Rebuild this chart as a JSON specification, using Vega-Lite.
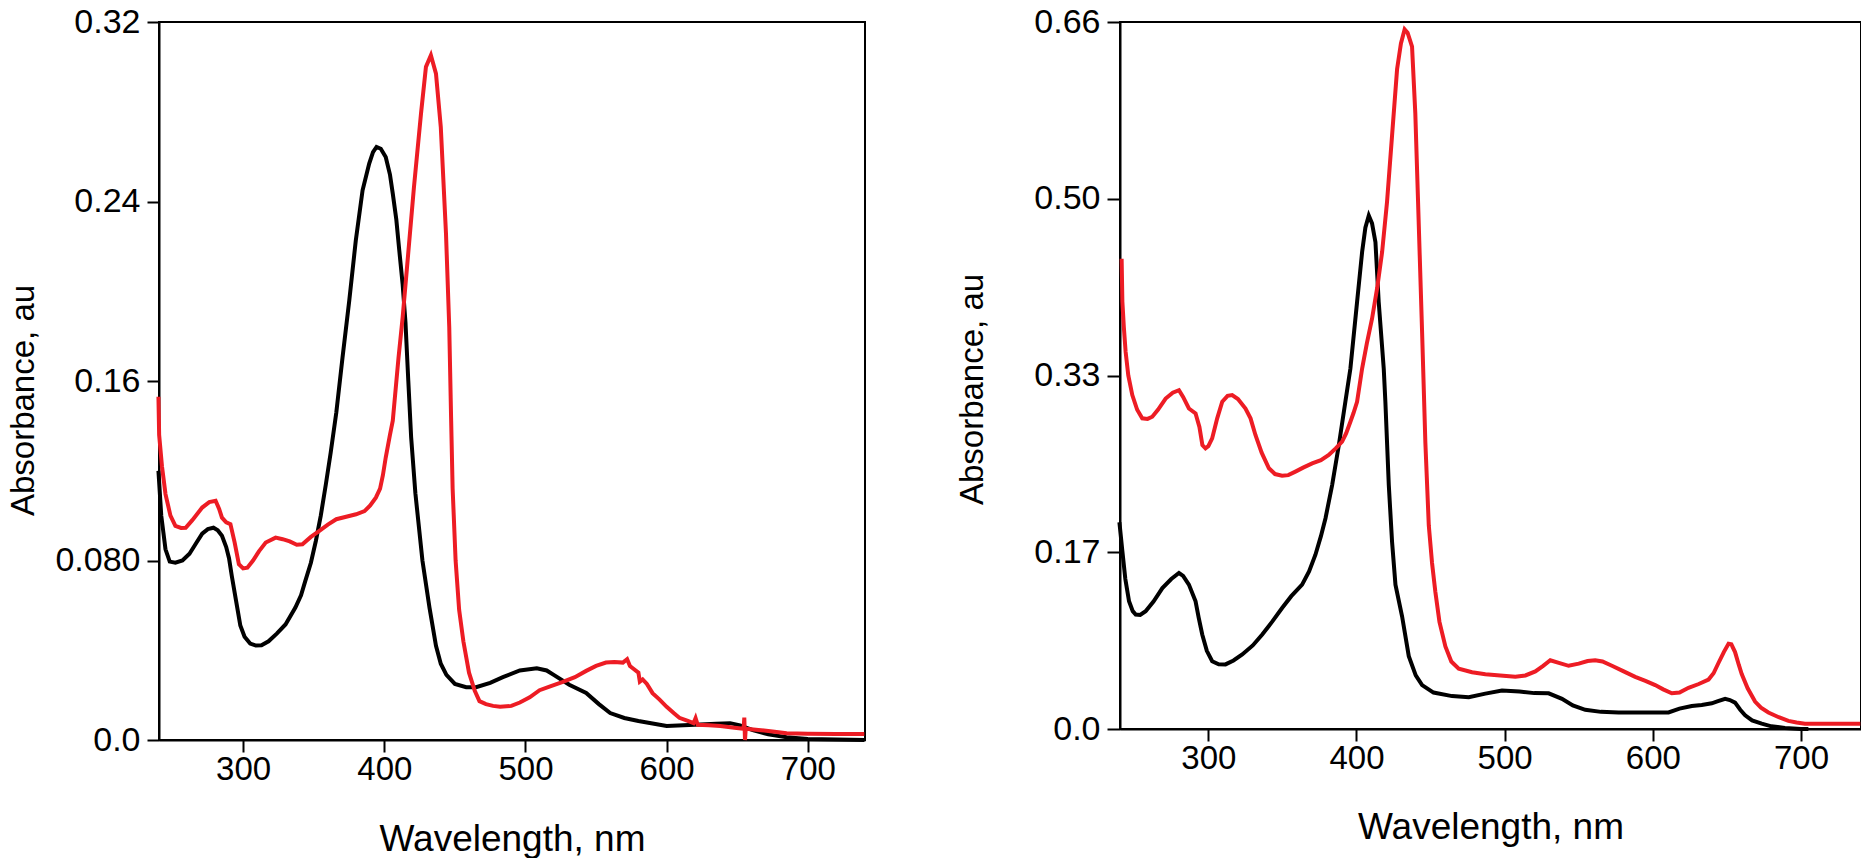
{
  "$schema": "https://vega.github.io/schema/vega-lite/v6.json",
  "background": "white",
  "padding": {"left": 6, "top": 4, "right": 2, "bottom": 0},
  "bounds": "flush",
  "spacing": 255,
  "config": {
    "font": "Liberation Sans",
    "view": {"stroke": "#000000", "strokeWidth": 2},
    "axis": {
      "grid": false,
      "domainColor": "#000000",
      "domainWidth": 2,
      "tickColor": "#000000",
      "tickWidth": 2,
      "tickSize": 12,
      "labelColor": "#000000",
      "titleColor": "#000000",
      "labelFont": "Liberation Sans",
      "titleFont": "Liberation Sans",
      "titleFontWeight": "normal",
      "labelFontSize": 34
    }
  },
  "datasets": {
    "LB": [
      {"wl": 240, "a": 0.120}, {"wl": 242, "a": 0.100}, {"wl": 245, "a": 0.085}, {"wl": 248, "a": 0.0795},
      {"wl": 252, "a": 0.079}, {"wl": 257, "a": 0.080}, {"wl": 262, "a": 0.083}, {"wl": 267, "a": 0.088},
      {"wl": 271, "a": 0.092}, {"wl": 275, "a": 0.094}, {"wl": 279, "a": 0.0946}, {"wl": 282, "a": 0.0935},
      {"wl": 285, "a": 0.091}, {"wl": 288, "a": 0.086}, {"wl": 290, "a": 0.081}, {"wl": 292, "a": 0.073},
      {"wl": 295, "a": 0.062}, {"wl": 298, "a": 0.051}, {"wl": 301, "a": 0.046}, {"wl": 305, "a": 0.043},
      {"wl": 309, "a": 0.0421}, {"wl": 313, "a": 0.0422}, {"wl": 318, "a": 0.044}, {"wl": 324, "a": 0.0475},
      {"wl": 330, "a": 0.0515}, {"wl": 337, "a": 0.059}, {"wl": 341, "a": 0.0645}, {"wl": 344, "a": 0.0708},
      {"wl": 348, "a": 0.079}, {"wl": 351.5, "a": 0.0887}, {"wl": 355, "a": 0.100}, {"wl": 358.6, "a": 0.114},
      {"wl": 362, "a": 0.128}, {"wl": 366, "a": 0.146}, {"wl": 370.4, "a": 0.1705}, {"wl": 375.2, "a": 0.196},
      {"wl": 379.8, "a": 0.2226}, {"wl": 384.6, "a": 0.245}, {"wl": 389.3, "a": 0.2569}, {"wl": 392, "a": 0.262},
      {"wl": 394.5, "a": 0.2643}, {"wl": 397.5, "a": 0.2635}, {"wl": 401, "a": 0.2598}, {"wl": 404, "a": 0.252},
      {"wl": 406, "a": 0.2435}, {"wl": 408.5, "a": 0.232}, {"wl": 410.6, "a": 0.2182}, {"wl": 413, "a": 0.203},
      {"wl": 415, "a": 0.186}, {"wl": 417, "a": 0.160}, {"wl": 419, "a": 0.135}, {"wl": 422, "a": 0.110},
      {"wl": 427, "a": 0.080}, {"wl": 432, "a": 0.059}, {"wl": 436.6, "a": 0.042}, {"wl": 440, "a": 0.034},
      {"wl": 444, "a": 0.029}, {"wl": 450, "a": 0.025}, {"wl": 458, "a": 0.0235}, {"wl": 465, "a": 0.0235},
      {"wl": 475, "a": 0.0255}, {"wl": 484, "a": 0.028}, {"wl": 496, "a": 0.031}, {"wl": 508, "a": 0.032},
      {"wl": 515, "a": 0.031}, {"wl": 520, "a": 0.029}, {"wl": 531, "a": 0.0246}, {"wl": 543, "a": 0.021},
      {"wl": 552, "a": 0.016}, {"wl": 560, "a": 0.012}, {"wl": 570, "a": 0.0098}, {"wl": 580, "a": 0.0085},
      {"wl": 600, "a": 0.0062}, {"wl": 620, "a": 0.0068}, {"wl": 635, "a": 0.0072}, {"wl": 645, "a": 0.0075},
      {"wl": 652, "a": 0.0065}, {"wl": 661, "a": 0.0044}, {"wl": 672, "a": 0.0025}, {"wl": 685, "a": 0.0012},
      {"wl": 700, "a": 0.0005}, {"wl": 740, "a": 0.0}
    ],
    "LR": [
      {"wl": 240, "a": 0.153}, {"wl": 240.5, "a": 0.136}, {"wl": 242.5, "a": 0.122}, {"wl": 245, "a": 0.1096},
      {"wl": 248.5, "a": 0.100}, {"wl": 252, "a": 0.0954}, {"wl": 256, "a": 0.0945}, {"wl": 259.3, "a": 0.0946},
      {"wl": 264, "a": 0.098}, {"wl": 271, "a": 0.1036}, {"wl": 276, "a": 0.106}, {"wl": 280.5, "a": 0.1066},
      {"wl": 283, "a": 0.103}, {"wl": 285, "a": 0.0991}, {"wl": 288, "a": 0.097}, {"wl": 291, "a": 0.0962},
      {"wl": 294, "a": 0.088}, {"wl": 297, "a": 0.0783}, {"wl": 300, "a": 0.0765}, {"wl": 303, "a": 0.0768},
      {"wl": 307, "a": 0.080}, {"wl": 311.3, "a": 0.0842}, {"wl": 316, "a": 0.088}, {"wl": 323, "a": 0.0902},
      {"wl": 328, "a": 0.0895}, {"wl": 333, "a": 0.0885}, {"wl": 338, "a": 0.087}, {"wl": 342, "a": 0.0872},
      {"wl": 348, "a": 0.0905}, {"wl": 354, "a": 0.0932}, {"wl": 360, "a": 0.096}, {"wl": 366, "a": 0.0984},
      {"wl": 373, "a": 0.0995}, {"wl": 380, "a": 0.1006}, {"wl": 386, "a": 0.102}, {"wl": 390, "a": 0.1045},
      {"wl": 394, "a": 0.108}, {"wl": 397, "a": 0.112}, {"wl": 399, "a": 0.118}, {"wl": 401, "a": 0.1259},
      {"wl": 404, "a": 0.136}, {"wl": 406, "a": 0.1423}, {"wl": 407.5, "a": 0.1527}, {"wl": 410, "a": 0.170},
      {"wl": 413, "a": 0.1884}, {"wl": 416.5, "a": 0.2137}, {"wl": 421, "a": 0.2464}, {"wl": 426, "a": 0.2792},
      {"wl": 429.5, "a": 0.300}, {"wl": 433, "a": 0.3052}, {"wl": 436.6, "a": 0.297}, {"wl": 440, "a": 0.2732},
      {"wl": 443.7, "a": 0.2256}, {"wl": 446, "a": 0.184}, {"wl": 447.3, "a": 0.1438}, {"wl": 448.4, "a": 0.112},
      {"wl": 450.5, "a": 0.080}, {"wl": 453, "a": 0.058}, {"wl": 456, "a": 0.044}, {"wl": 460, "a": 0.030},
      {"wl": 464, "a": 0.022}, {"wl": 467.4, "a": 0.0173}, {"wl": 472, "a": 0.016}, {"wl": 477, "a": 0.0152},
      {"wl": 482, "a": 0.0148}, {"wl": 490, "a": 0.0152}, {"wl": 496, "a": 0.0167}, {"wl": 503, "a": 0.019},
      {"wl": 510, "a": 0.0222}, {"wl": 518, "a": 0.024}, {"wl": 526, "a": 0.0258}, {"wl": 535, "a": 0.028},
      {"wl": 543, "a": 0.0308}, {"wl": 550, "a": 0.033}, {"wl": 557, "a": 0.0345}, {"wl": 563, "a": 0.0348},
      {"wl": 569, "a": 0.0345}, {"wl": 572, "a": 0.036}, {"wl": 574, "a": 0.033}, {"wl": 576, "a": 0.032},
      {"wl": 580, "a": 0.030}, {"wl": 581, "a": 0.026}, {"wl": 583, "a": 0.027}, {"wl": 586, "a": 0.025},
      {"wl": 590, "a": 0.0209}, {"wl": 595, "a": 0.018}, {"wl": 600, "a": 0.0148}, {"wl": 605, "a": 0.012},
      {"wl": 609, "a": 0.0099}, {"wl": 615, "a": 0.0085}, {"wl": 619, "a": 0.0075}, {"wl": 620.5, "a": 0.0098},
      {"wl": 622, "a": 0.0068}, {"wl": 630, "a": 0.0066}, {"wl": 638, "a": 0.0062}, {"wl": 648, "a": 0.0055},
      {"wl": 654.5, "a": 0.005}, {"wl": 655, "a": 0.010}, {"wl": 655.5, "a": 0.0}, {"wl": 656, "a": 0.005},
      {"wl": 665, "a": 0.0045}, {"wl": 675, "a": 0.0038}, {"wl": 685, "a": 0.003}, {"wl": 700, "a": 0.0028},
      {"wl": 720, "a": 0.0027}, {"wl": 740, "a": 0.0027}
    ],
    "RB": [
      {"wl": 240, "a": 0.193}, {"wl": 242, "a": 0.166}, {"wl": 244, "a": 0.14}, {"wl": 246.5, "a": 0.1192},
      {"wl": 249, "a": 0.110}, {"wl": 251, "a": 0.1068}, {"wl": 254, "a": 0.1065}, {"wl": 257.7, "a": 0.1099},
      {"wl": 263, "a": 0.119}, {"wl": 269, "a": 0.1316}, {"wl": 275, "a": 0.140}, {"wl": 280.2, "a": 0.1456},
      {"wl": 283, "a": 0.143}, {"wl": 286.9, "a": 0.1348}, {"wl": 291.4, "a": 0.1192}, {"wl": 293.5, "a": 0.104},
      {"wl": 295.9, "a": 0.0882}, {"wl": 299, "a": 0.073}, {"wl": 302.6, "a": 0.0633}, {"wl": 307, "a": 0.0605},
      {"wl": 311.6, "a": 0.0603}, {"wl": 317, "a": 0.064}, {"wl": 322.9, "a": 0.0696}, {"wl": 330, "a": 0.078},
      {"wl": 336.4, "a": 0.0882}, {"wl": 343, "a": 0.100}, {"wl": 349.8, "a": 0.113}, {"wl": 356, "a": 0.124},
      {"wl": 363.3, "a": 0.1348}, {"wl": 368, "a": 0.147}, {"wl": 372.3, "a": 0.1627}, {"wl": 376, "a": 0.180},
      {"wl": 379.1, "a": 0.1968}, {"wl": 383.6, "a": 0.2279}, {"wl": 388.1, "a": 0.2651}, {"wl": 392.5, "a": 0.3055},
      {"wl": 395.9, "a": 0.3365}, {"wl": 400.4, "a": 0.3986}, {"wl": 403.8, "a": 0.4452}, {"wl": 406, "a": 0.468},
      {"wl": 408.3, "a": 0.4793}, {"wl": 410.5, "a": 0.472}, {"wl": 412.8, "a": 0.4545}, {"wl": 415, "a": 0.3986},
      {"wl": 418.4, "a": 0.3365}, {"wl": 419.5, "a": 0.3055}, {"wl": 421.8, "a": 0.2279}, {"wl": 424, "a": 0.175},
      {"wl": 426.3, "a": 0.1348}, {"wl": 430.8, "a": 0.105}, {"wl": 435.3, "a": 0.068}, {"wl": 440, "a": 0.050},
      {"wl": 444.3, "a": 0.041}, {"wl": 452, "a": 0.034}, {"wl": 464.5, "a": 0.0307}, {"wl": 475.8, "a": 0.0297},
      {"wl": 487, "a": 0.033}, {"wl": 498.2, "a": 0.0359}, {"wl": 510, "a": 0.035}, {"wl": 520, "a": 0.0335},
      {"wl": 529.7, "a": 0.0333}, {"wl": 538.7, "a": 0.0282}, {"wl": 546, "a": 0.022}, {"wl": 554.4, "a": 0.0179},
      {"wl": 565, "a": 0.016}, {"wl": 576.9, "a": 0.0154}, {"wl": 595, "a": 0.0154}, {"wl": 610.6, "a": 0.0154},
      {"wl": 618, "a": 0.019}, {"wl": 626.3, "a": 0.0215}, {"wl": 633, "a": 0.0225}, {"wl": 639.8, "a": 0.024},
      {"wl": 644, "a": 0.026}, {"wl": 648.8, "a": 0.0282}, {"wl": 652, "a": 0.027}, {"wl": 655.5, "a": 0.0246},
      {"wl": 659, "a": 0.018}, {"wl": 662.3, "a": 0.0128}, {"wl": 667, "a": 0.008}, {"wl": 673.5, "a": 0.005},
      {"wl": 680, "a": 0.0025}, {"wl": 689.2, "a": 0.001}, {"wl": 700, "a": 0.0}, {"wl": 705, "a": 0.0}
    ],
    "RR": [
      {"wl": 241.5, "a": 0.439}, {"wl": 242, "a": 0.399}, {"wl": 243, "a": 0.375}, {"wl": 244.2, "a": 0.352},
      {"wl": 246, "a": 0.33}, {"wl": 248.7, "a": 0.3117}, {"wl": 252, "a": 0.298}, {"wl": 255.4, "a": 0.290},
      {"wl": 259, "a": 0.2895}, {"wl": 262.2, "a": 0.2915}, {"wl": 266, "a": 0.298}, {"wl": 271.2, "a": 0.3085},
      {"wl": 276, "a": 0.314}, {"wl": 280.2, "a": 0.3163}, {"wl": 283, "a": 0.31}, {"wl": 286.9, "a": 0.2992},
      {"wl": 291.4, "a": 0.2946}, {"wl": 294, "a": 0.282}, {"wl": 296, "a": 0.265}, {"wl": 298.1, "a": 0.262},
      {"wl": 300, "a": 0.264}, {"wl": 302.6, "a": 0.2713}, {"wl": 306, "a": 0.290}, {"wl": 309.4, "a": 0.3055},
      {"wl": 313, "a": 0.311}, {"wl": 316.1, "a": 0.3117}, {"wl": 320, "a": 0.308}, {"wl": 325.1, "a": 0.2992},
      {"wl": 328.5, "a": 0.290}, {"wl": 331.8, "a": 0.2745}, {"wl": 336, "a": 0.258}, {"wl": 340.9, "a": 0.2434},
      {"wl": 345, "a": 0.238}, {"wl": 349.8, "a": 0.2365}, {"wl": 354, "a": 0.237}, {"wl": 358.8, "a": 0.2403},
      {"wl": 364, "a": 0.244}, {"wl": 370.1, "a": 0.248}, {"wl": 376, "a": 0.251}, {"wl": 381.3, "a": 0.2558},
      {"wl": 386, "a": 0.262}, {"wl": 390.3, "a": 0.2682}, {"wl": 393, "a": 0.276}, {"wl": 395.9, "a": 0.2868},
      {"wl": 398, "a": 0.295}, {"wl": 400.4, "a": 0.3055}, {"wl": 403.8, "a": 0.3365}, {"wl": 407, "a": 0.36},
      {"wl": 410.5, "a": 0.383}, {"wl": 414, "a": 0.412}, {"wl": 417.3, "a": 0.4452}, {"wl": 420.6, "a": 0.4917},
      {"wl": 424, "a": 0.5538}, {"wl": 427.4, "a": 0.6159}, {"wl": 430, "a": 0.640}, {"wl": 432.5, "a": 0.6531},
      {"wl": 434.5, "a": 0.650}, {"wl": 437.5, "a": 0.637}, {"wl": 439.7, "a": 0.575}, {"wl": 442, "a": 0.4725},
      {"wl": 444.3, "a": 0.3697}, {"wl": 446.5, "a": 0.267}, {"wl": 448.8, "a": 0.19}, {"wl": 451, "a": 0.155},
      {"wl": 453.2, "a": 0.1283}, {"wl": 456, "a": 0.100}, {"wl": 460, "a": 0.077}, {"wl": 464, "a": 0.063},
      {"wl": 469, "a": 0.0564}, {"wl": 478, "a": 0.053}, {"wl": 487, "a": 0.0512}, {"wl": 497, "a": 0.050},
      {"wl": 507.2, "a": 0.0487}, {"wl": 514, "a": 0.050}, {"wl": 520.7, "a": 0.0538}, {"wl": 526, "a": 0.059},
      {"wl": 530.8, "a": 0.0642}, {"wl": 536, "a": 0.062}, {"wl": 543.2, "a": 0.059}, {"wl": 550, "a": 0.061},
      {"wl": 556, "a": 0.0635}, {"wl": 561.1, "a": 0.0642}, {"wl": 566, "a": 0.063}, {"wl": 572.4, "a": 0.059},
      {"wl": 580, "a": 0.054}, {"wl": 588.1, "a": 0.0487}, {"wl": 595, "a": 0.045}, {"wl": 601.6, "a": 0.041},
      {"wl": 607, "a": 0.037}, {"wl": 612.8, "a": 0.0333}, {"wl": 618, "a": 0.034}, {"wl": 624.1, "a": 0.0385},
      {"wl": 631, "a": 0.042}, {"wl": 637.6, "a": 0.0462}, {"wl": 641, "a": 0.052}, {"wl": 644.3, "a": 0.0616},
      {"wl": 648, "a": 0.072}, {"wl": 651.1, "a": 0.0795}, {"wl": 653, "a": 0.079}, {"wl": 655.5, "a": 0.0718},
      {"wl": 658, "a": 0.060}, {"wl": 660, "a": 0.0513}, {"wl": 664, "a": 0.038}, {"wl": 669, "a": 0.0256},
      {"wl": 673, "a": 0.020}, {"wl": 678, "a": 0.0154}, {"wl": 685, "a": 0.011}, {"wl": 691.5, "a": 0.0076},
      {"wl": 697, "a": 0.006}, {"wl": 702.7, "a": 0.005}, {"wl": 720, "a": 0.005}, {"wl": 740, "a": 0.005}
    ]
  },
  "hconcat": [
    {
      "width": 706,
      "height": 718,
      "encoding": {
        "x": {
          "field": "wl", "type": "quantitative",
          "scale": {"domain": [240.4, 740.5], "nice": false, "zero": false},
          "axis": {"title": "Wavelength, nm", "values": [300, 400, 500, 600, 700], "labelFontSize": 33, "labelPadding": 1,
                   "titleFontSize": 37, "titleBaseline": "alphabetic", "titleY": 110}
        },
        "y": {
          "field": "a", "type": "quantitative",
          "scale": {"domain": [0, 0.32], "nice": false, "zero": true},
          "axis": {"title": "Absorbance, au", "values": [0, 0.08, 0.16, 0.24, 0.32],
                   "labelExpr": "datum.value == 0 ? '0.0' : (datum.value < 0.1 ? '0.080' : format(datum.value, '.2f'))",
                   "labelPadding": 7, "titleFontSize": 33, "titleBaseline": "alphabetic", "titleX": -126, "titleY": 378}
        }
      },
      "layer": [
        {"data": {"name": "LB"}, "mark": {"type": "line", "color": "#000000", "strokeWidth": 4}},
        {"data": {"name": "LR"}, "mark": {"type": "line", "color": "#ED1C24", "strokeWidth": 4}}
      ]
    },
    {
      "width": 741,
      "height": 707,
      "encoding": {
        "x": {
          "field": "wl", "type": "quantitative",
          "scale": {"domain": [240.4, 740.5], "nice": false, "zero": false},
          "axis": {"title": "Wavelength, nm", "values": [300, 400, 500, 600, 700], "labelFontSize": 33, "labelPadding": 1,
                   "titleFontSize": 37, "titleBaseline": "alphabetic", "titleY": 109}
        },
        "y": {
          "field": "a", "type": "quantitative",
          "scale": {"domain": [0, 0.66], "nice": false, "zero": true},
          "axis": {"title": "Absorbance, au", "values": [0, 0.165, 0.33, 0.495, 0.66],
                   "labelExpr": "datum.value == 0 ? '0.0' : (datum.value < 0.2 ? '0.17' : (datum.value < 0.4 ? '0.33' : (datum.value < 0.6 ? '0.50' : '0.66')))",
                   "labelPadding": 7, "tickSize": 13, "titleFontSize": 33, "titleBaseline": "alphabetic", "titleX": -138, "titleY": 367}
        }
      },
      "layer": [
        {"data": {"name": "RB"}, "mark": {"type": "line", "color": "#000000", "strokeWidth": 4}},
        {"data": {"name": "RR"}, "mark": {"type": "line", "color": "#ED1C24", "strokeWidth": 4}}
      ]
    }
  ]
}
